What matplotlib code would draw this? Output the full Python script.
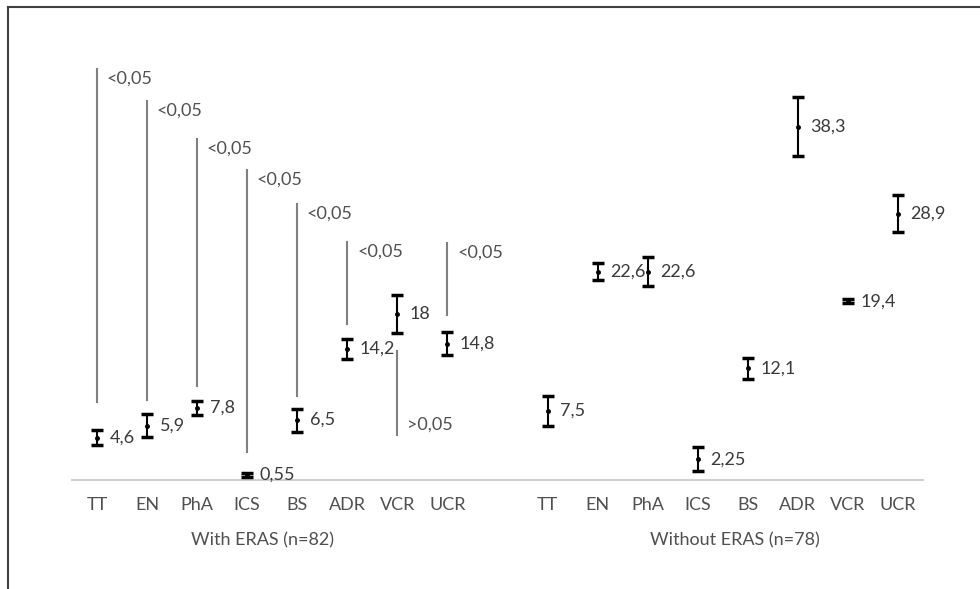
import matplotlib
matplotlib.use("Agg")
import matplotlib.pyplot as plt
from matplotlib.lines import Line2D
from matplotlib.transforms import blended_transform_factory

plt.rcParams['font.family'] = ['Lato', 'DejaVu Sans']

cats = ["TT", "EN", "PhA", "ICS", "BS", "ADR", "VCR", "UCR"]

# mean and error half-width for each group
with_means = [4.6, 5.9, 7.8, 0.55, 6.5, 14.2, 18, 14.8]
with_err = [0.8, 1.25, 0.8, 0.2, 1.25, 1.1, 2.1, 1.25]
without_means = [7.5, 22.6, 22.6, 2.25, 12.1, 38.3, 19.4, 28.9]
without_err = [1.6, 0.9, 1.6, 1.3, 1.15, 3.2, 0.25, 2.0]

# p-value lines drawn over the "with ERAS" group
p_text = ["<0,05", "<0,05", "<0,05", "<0,05", "<0,05", "<0,05", ">0,05", "<0,05"]
p_top = [44.6, 41.1, 37.0, 33.6, 29.9, 25.8, 14.0, 25.7]
p_bottom = [8.5, 8.7, 10.2, 3.0, 9.1, 16.9, 4.9, 17.9]

group_names = ["With ERAS (n=82)", "Without ERAS (n=78)"]

fig = plt.figure(figsize=(9.8, 5.89), dpi=100)
ax = fig.add_axes([72/980, 109/589, 851/980, 461/589])

n = len(cats)
x_with = list(range(n))
x_without = [i + n + 1 for i in range(n)]

txt_col = "#505050"
val_col = "#3a3a3a"


def fmt(v):
    return f"{v:g}".replace(".", ",")


for xs, means, errs in [(x_with, with_means, with_err), (x_without, without_means, without_err)]:
    ax.errorbar(xs, means, yerr=errs, fmt="o", color="black", ms=2.5,
                elinewidth=1.5, capsize=4, capthick=2.5, zorder=3)
    for x, m in zip(xs, means):
        ax.annotate(fmt(m), (x, m), xytext=(9, 0), textcoords="offset points",
                    ha="left", va="center", fontsize=13, color=val_col)

# significance lines
for x, t, top, bot in zip(x_with, p_text, p_top, p_bottom):
    ax.plot([x, x], [bot, top], color="#808080", lw=1.5, zorder=1)
    if t.startswith("<"):
        ax.annotate(t, (x, top), xytext=(7, -7), textcoords="offset points",
                    ha="left", va="center", fontsize=13, color=txt_col)
    else:
        ax.annotate(t, (x, bot), xytext=(7, 7), textcoords="offset points",
                    ha="left", va="center", fontsize=13, color=txt_col)

ax.set_xlim(-0.5, 2 * n + 0.5)
ax.set_ylim(0, 50)
ax.set_xticks(x_with + x_without)
ax.set_xticklabels(cats + cats, fontsize=13, color=txt_col)
ax.tick_params(axis="x", length=0, pad=12)
ax.set_yticks([])
for s in ["top", "left", "right"]:
    ax.spines[s].set_visible(False)
ax.spines["bottom"].set_color("#d0d0d0")
ax.spines["bottom"].set_linewidth(1.5)

tr = blended_transform_factory(ax.transData, ax.transAxes)
ax.text(3.3, -0.13, group_names[0], transform=tr, ha="center", va="center",
        fontsize=13, color=txt_col)
ax.text(12.74, -0.13, group_names[1], transform=tr, ha="center", va="center",
        fontsize=13, color=txt_col)

# outer frame (top and left edges)
fig.add_artist(Line2D([8/980, 1.0], [1 - 7/589, 1 - 7/589], color="#404040", lw=1.5))
fig.add_artist(Line2D([8/980, 8/980], [0, 1 - 7/589], color="#404040", lw=1.5))

fig.savefig("out.png", dpi=100)
